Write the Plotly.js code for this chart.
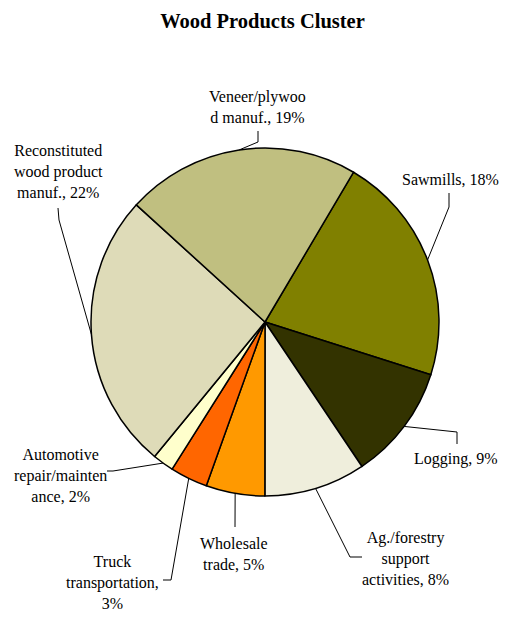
<!DOCTYPE html>
<html>
<head>
<meta charset="utf-8">
<script src="https://cdn.plot.ly/plotly-3.0.1.min.js"></script>
<style>html,body{margin:0;padding:0;background:#fff;}#chart{width:508px;height:619px;}</style>
</head>
<body>
<div id="chart"></div>
<script>
// ---- data (shares; labels show the rounded values) ----
const categories = ['Sawmills', 'Logging', 'Ag./forestry support activities', 'Wholesale trade',
  'Truck transportation', 'Automotive repair/maintenance', 'Reconstituted wood product manuf.', 'Veneer/plywood manuf.'];
const values = [18.4, 9.2, 8.1, 4.7, 3.0, 1.7, 22.2, 18.7];
const labelText = ['Sawmills, 18%', 'Logging, 9%', 'Ag./forestry<br>support<br>activities, 8%', 'Wholesale<br>trade, 5%',
  'Truck<br>transportation,<br>3%', 'Automotive<br>repair/mainten<br>ance, 2%', 'Reconstituted<br>wood product<br>manuf., 22%',
  'Veneer/plywoo<br>d manuf., 19%'];
const colors = ['#808000', '#333300', '#EFEEDC', '#FF9900', '#FF6600', '#FFFFCC', '#DEDBB8', '#C0BF80'];

// ---- layout (pixels) ----
const W = 508, H = 619;
const CX = 265, CY = 322, R = 174;
const ROT = 30.6;
const FONT = 'Liberation Serif';
// label centre [x, y] and leader path points (elbow(s) ending at label)
const labelPos = [[450, 180], [456, 459], [405, 558], [234, 554], [112, 582], [60, 475], [58, 171], [257, 107]];
const leaderPts = [
  [[449, 207], [449, 193]],
  [[457, 432], [457, 444]],
  [[350, 557], [362, 557]],
  [[235, 527]],
  [[171, 580], [163, 580]],
  [[113, 471], [107, 471]],
  [[59, 220], [58, 208]],
  [[258, 142], [258, 131]]
];
const px = x => x / W, py = y => 1 - y / H;

const total = values.reduce((a, b) => a + b, 0);
const shapes = [], annotations = [];
let acc = 0;
values.forEach((v, i) => {
  const mid = (ROT + (acc + v / 2) / total * 360) * Math.PI / 180;
  acc += v;
  const ax = CX + R * Math.sin(mid), ay = CY - R * Math.cos(mid);
  let path = 'M' + px(ax) + ',' + py(ay);
  leaderPts[i].forEach(p => { path += ' L' + px(p[0]) + ',' + py(p[1]); });
  shapes.push({type: 'path', xref: 'paper', yref: 'paper', path: path, line: {color: '#000', width: 1}});
  annotations.push({
    xref: 'paper', yref: 'paper', x: px(labelPos[i][0]), y: py(labelPos[i][1]),
    xanchor: 'center', yanchor: 'middle', text: labelText[i], showarrow: false, align: 'center',
    font: {family: FONT, size: 16, color: '#000'}
  });
});

const trace = {
  type: 'pie', labels: categories, values: values, sort: false, direction: 'clockwise', rotation: ROT,
  marker: {colors: colors, line: {color: '#000', width: 1.5}},
  textinfo: 'none', hoverinfo: 'label+percent', showlegend: false,
  domain: {x: [px(CX - R), px(CX + R)], y: [py(CY + R), py(CY - R)]}
};

const layout = {
  width: W, height: H, margin: {l: 0, r: 0, t: 0, b: 0},
  font: {family: FONT, color: '#000'},
  paper_bgcolor: '#fff', plot_bgcolor: '#fff', showlegend: false,
  title: {text: '<b>Wood Products Cluster</b>', x: 262.5 / W, xanchor: 'center', xref: 'paper',
    y: 1 - 21 / H, yref: 'container', yanchor: 'middle',
    font: {family: FONT, size: 20.5, color: '#000'}},
  shapes: shapes, annotations: annotations
};

Plotly.newPlot('chart', [trace], layout, {displayModeBar: false, staticPlot: true});
</script>
</body>
</html>
